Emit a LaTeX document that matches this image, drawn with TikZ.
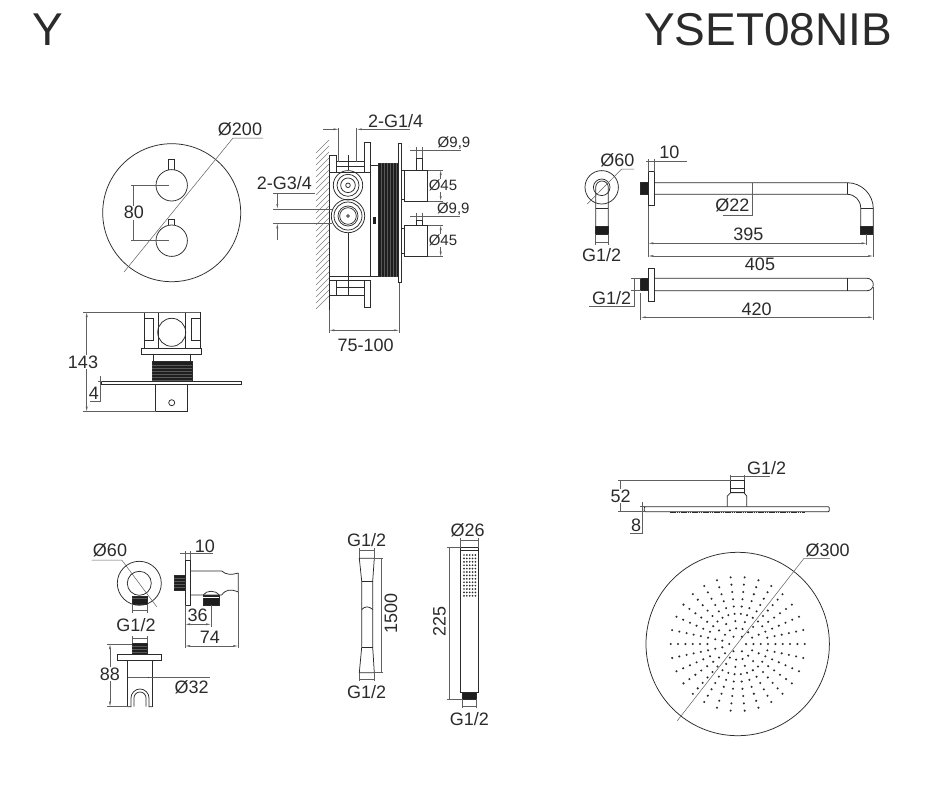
\documentclass[tikz,border=0pt]{standalone}
\usepackage{fontspec}
\setmainfont{Liberation Sans}
\usetikzlibrary{arrows.meta}
\definecolor{inkcol}{HTML}{2B2B2B}
\definecolor{threadcol}{HTML}{1E1E1E}
\tikzset{>={Latex[length=5pt,width=2pt]}}
\tikzset{partline/.style={draw=inkcol,line width=0.75pt}}
\tikzset{dimline/.style={draw=inkcol!75,line width=0.5pt}}
\tikzset{threadbox/.style={draw=inkcol,fill=threadcol,line width=0.5pt}}
\tikzset{stripe/.style={draw=gray!70!black,line width=0.3pt}}
\tikzset{hatchline/.style={draw=inkcol!60,line width=0.45pt}}
\tikzset{dimlabel/.style={text=inkcol,font=\fontsize{18}{18}\selectfont,inner sep=0.5pt}}
\tikzset{smalllabel/.style={text=inkcol,font=\fontsize{15}{15}\selectfont,inner sep=0.5pt}}
\tikzset{titlelabel/.style={text=inkcol,font=\fontsize{46}{46}\selectfont,inner sep=0pt}}
\begin{document}
\begin{tikzpicture}[x=1pt,y=-1pt]
    \useasboundingbox[fill=white] (0,0) rectangle (943,785);

    % Titles
    \node[titlelabel] (titleleft) at (48,30) {Y};
    \node[titlelabel] (titleright) at (768,30) {YSET08NIB};

    % Valve plate, front
    \draw[partline] (171.7,212.7) circle (69);
    \draw[partline] (171.7,185.3) circle (15.7);
    \draw[partline] (171.7,240.7) circle (15.7);
    \draw[partline] (168.3,169.6) -- (168.3,159) -- (174,159) -- (174,169.6);
    \draw[partline] (168,225) -- (168,219) -- (174,219) -- (174,225);
    \draw[dimline] (124,272) -- (233,138) -- (263,138);
    \draw[dimline] (131,185) -- (168.7,185);
    \draw[dimline] (131,240.7) -- (168.7,240.7);
    \draw[dimline] (133.3,185) -- (133.3,240.7);
    \node[dimlabel] (platedia) at (240,129) {Ø200};
    \node[dimlabel,fill=white] (knobgap) at (134,212.7) {80};

    % Valve, top view
    \draw[partline] (144,312) rectangle (158,348);
    \draw[partline] (185,312) rectangle (200,348);
    \draw[partline] (144,318) -- (153,318) -- (153,340) -- (144,340);
    \draw[partline] (200,318) -- (191,318) -- (191,340) -- (200,340);
    \draw[partline] (158,312) -- (185,312);
    \draw[partline] (171.7,332.3) circle (14);
    \draw[partline] (141.7,348) rectangle (201.7,354);
    \draw[partline] (153.3,354) rectangle (190.7,361.7);
    \draw[threadbox] (152,361.7) rectangle (192.3,381.7);
    \foreach \y in {365,368,...,380}
        \draw[stripe] (152,\y) -- (192.3,\y);
    \draw[partline] (101.7,381.7) rectangle (241.7,384.3);
    \draw[partline] (155.7,384.3) rectangle (187.3,411.7);
    \draw[partline] (171.7,402.7) circle (3);
    \draw[dimline] (83.3,312) -- (200,312);
    \draw[dimline] (83.3,411.7) -- (155.7,411.7);
    \draw[dimline,<->] (86.7,312) -- (86.7,411.7);
    \draw[dimline] (98,381.7) -- (102,381.7);
    \draw[dimline] (90,401.7) -- (100.7,401.7) -- (100.7,376);
    \node[dimlabel,fill=white] (totaldepth) at (83,362) {143};
    \node[dimlabel] (platethick) at (94,393) {4};

    % Valve, side view
    \foreach \y in {140,146,...,297}
        \draw[hatchline] (316,\y+13) -- (329,\y);
    \draw[partline] (329.3,155) -- (329.3,310);
    \draw[partline] (329,172.7) rectangle (370,276.7);
    \draw[partline] (329,155) rectangle (336,172.7);
    \draw[partline] (336,161.7) rectangle (364.3,172.7);
    \draw[partline] (336,166) -- (364.3,166);
    \draw[partline] (364.3,142.7) rectangle (370.3,172.7);
    \draw[partline] (329,280) rectangle (336,295);
    \draw[partline] (336,280) rectangle (364.3,295);
    \draw[partline] (336,287) -- (364.3,287);
    \draw[partline] (364.3,280) rectangle (370.3,307.7);
    \draw[partline] (329,276.7) -- (329,280);
    \draw[partline] (348,155) -- (348,170);
    \draw[partline] (348,232.7) -- (348,295);
    \foreach \r in {14.7,11,7.3,2.3}
        \draw[partline] (348,185.3) circle (\r);
    \foreach \r in {16.7,14,10,8.3,1.3}
        \draw[partline] (348,216) circle (\r);
    \draw[partline] (370,165) rectangle (378,276.7);
    \fill[threadcol] (372.8,217) rectangle (375.8,224);
    \draw[threadbox] (378,163.3) rectangle (398.3,276.7);
    \foreach \x in {381,384,...,396}
        \draw[stripe] (\x,163.3) -- (\x,276.7);
    \draw[partline] (398.3,143.3) rectangle (401,282.3);
    \draw[partline] (401,170) rectangle (404.5,199.3);
    \draw[partline] (404.5,170) rectangle (427.7,201);
    \draw[partline] (416.7,170) -- (416.7,158) -- (422.3,158) -- (422.3,170);
    \draw[partline] (401,228) rectangle (404.5,253);
    \draw[partline] (404.5,225) rectangle (427.7,256.7);
    \draw[partline] (416.7,225) -- (416.7,220) -- (422.3,220) -- (422.3,225);
    % side view dimensions
    \draw[dimline] (338.7,128) -- (338.7,161.7);
    \draw[dimline] (356.7,128) -- (356.7,161.7);
    \draw[dimline,->] (323,129.3) -- (338.7,129.3);
    \draw[dimline,->] (410,129.3) -- (356.7,129.3);
    \node[dimlabel] (portsupper) at (395.7,120.7) {2-G1/4};
    \draw[dimline] (273,193.3) -- (315,193.3);
    \draw[dimline] (273,209) -- (331.5,209);
    \draw[dimline] (273,223.3) -- (332,223.3);
    \draw[dimline,->] (277.3,193.3) -- (277.3,209);
    \draw[dimline,->] (277.3,240) -- (277.3,223.3);
    \node[dimlabel] (portslower) at (284.3,182.7) {2-G3/4};
    \draw[dimline] (329.3,310) -- (329.3,333);
    \draw[dimline] (399.3,283) -- (399.3,333);
    \draw[dimline,<->] (329.3,330.3) -- (399.3,330.3);
    \node[dimlabel] (boxdepth) at (365.7,345.7) {75-100};
    \draw[dimline] (410,150.7) -- (460.7,150.7);
    \draw[dimline] (416.7,147) -- (416.7,158);
    \draw[dimline] (422.3,147) -- (422.3,158);
    \node[smalllabel] (stubupper) at (454,143.5) {Ø9,9};
    \draw[dimline] (410,216) -- (460,216);
    \draw[dimline] (416.7,212.5) -- (416.7,220);
    \draw[dimline] (422.3,212.5) -- (422.3,220);
    \node[smalllabel] (stublower) at (453.3,209) {Ø9,9};
    \draw[dimline] (427.7,170) -- (443,170);
    \draw[dimline] (427.7,201) -- (443,201);
    \draw[dimline,<->] (440.7,170) -- (440.7,201);
    \node[smalllabel,fill=white] (knobupper) at (443,185.5) {Ø45};
    \draw[dimline] (427.7,225) -- (443,225);
    \draw[dimline] (427.7,256.7) -- (443,256.7);
    \draw[dimline,<->] (440.7,225) -- (440.7,256.7);
    \node[smalllabel,fill=white] (knoblower) at (443,240.5) {Ø45};

    % Shower arm, wall flange
    \draw[partline] (601.7,187.3) circle (16.7);
    \draw[partline] (601.7,187.3) circle (8.3);
    \draw[partline] (595.7,226.7) -- (595.7,187.3) arc (180:360:6.3) -- (608.3,226.7);
    \draw[partline] (595.7,208) -- (608.3,208);
    \draw[threadbox] (595.7,226.7) rectangle (608.3,234);
    \draw[dimline] (587.3,204) -- (621.7,169) -- (634,169);
    \node[dimlabel] (flangedia) at (617.3,160.7) {Ø60};
    \draw[dimline] (595.7,234) -- (595.7,245);
    \draw[dimline] (608.3,234) -- (608.3,245);
    \draw[dimline] (595.7,242.7) -- (608.3,242.7);
    \node[dimlabel] (armthread) at (601.7,255) {G1/2};

    % Shower arm, side view
    \draw[partline] (648.3,171.7) rectangle (654,205.7);
    \draw[threadbox] (640,182.7) rectangle (648.3,194.3);
    \draw[partline] (654,182.7) -- (847.3,182.7) arc (-90:0:26) -- (873.3,226.7);
    \draw[partline] (654,194.3) -- (847.3,194.3) arc (-90:0:13.4) -- (860.7,226.7);
    \draw[partline] (847.3,182.7) -- (847.3,194.3);
    \draw[partline] (860.7,208.3) -- (873.3,208.3);
    \draw[threadbox] (860.7,226.7) rectangle (873.3,234);
    \draw[dimline] (646,161) -- (686.7,161);
    \draw[dimline] (648.3,159) -- (648.3,171.7);
    \draw[dimline] (654,159) -- (654,171.7);
    \node[dimlabel] (flangewidth) at (669.3,152.7) {10};
    \draw[dimline] (752.3,182.7) -- (752.3,215) -- (723.3,215);
    \node[dimlabel] (pipedia) at (732.3,205) {Ø22};
    \draw[dimline] (648.3,205.7) -- (648.3,257);
    \draw[dimline] (866.7,234) -- (866.7,245);
    \draw[dimline] (873.3,208.3) -- (873.3,257);
    \draw[dimline,<->] (648.3,243.3) -- (866.7,243.3);
    \draw[dimline,<->] (648.3,256) -- (873.3,256);
    \node[dimlabel] (reachinner) at (748.3,234.3) {395};
    \node[dimlabel] (reachouter) at (760,264) {405};

    % Shower arm, plan view
    \draw[partline] (648.3,268.3) rectangle (654,301.7);
    \draw[threadbox] (640.7,278.3) rectangle (648.3,290.7);
    \draw[partline] (654,278.3) -- (867.1,278.3) arc (-90:90:6.2) -- (654,290.7);
    \draw[partline] (847.3,278.3) -- (847.3,290.7);
    \draw[dimline] (631,278.3) -- (640.7,278.3);
    \draw[dimline] (631,290.7) -- (640.7,290.7);
    \draw[dimline] (634,278.3) -- (634,306) -- (589.3,306);
    \node[dimlabel] (planthread) at (611.7,298.3) {G1/2};
    \draw[dimline] (640.7,293) -- (640.7,320);
    \draw[dimline] (873.3,287) -- (873.3,320);
    \draw[dimline,<->] (640.7,317.3) -- (873.3,317.3);
    \node[dimlabel] (planlength) at (756.7,309) {420};

    % Wall outlet, front
    \draw[partline] (139.3,583.3) circle (22);
    \draw[partline] (139.3,583.3) circle (12);
    \draw[threadbox] (132.3,596) rectangle (147.3,604.3);
    \draw[stripe] (132.3,598.5) -- (147.3,598.5);
    \draw[dimline] (91.7,560) -- (121.7,560) -- (156.7,606.7);
    \node[dimlabel] (outletdia) at (110,550) {Ø60};
    \draw[dimline] (132.3,604) -- (132.3,613);
    \draw[dimline] (147.3,604) -- (147.3,613);
    \draw[dimline] (132.3,610) -- (147.3,610);
    \node[dimlabel] (outletthread) at (136,625) {G1/2};

    % Wall outlet, side
    \draw[partline] (185,560) rectangle (190.7,605);
    \draw[threadbox] (174.3,575) rectangle (185,590);
    \foreach \y in {578,581,...,588}
        \draw[stripe] (174.3,\y) -- (185,\y);
    \draw[partline] (190.7,571) -- (221.7,571) .. controls (226,575) and (232,575) .. (238.3,573);
    \draw[partline] (238.3,573) -- (238.3,592) .. controls (231,589) and (226,589) .. (221.7,595) -- (190.7,595);
    \draw[partline] (203.3,595) .. controls (206,590) and (216,590) .. (219.3,595);
    \draw[threadbox] (203.3,595) rectangle (219.3,605);
    \draw[stripe,draw=white] (203.3,597) -- (219.3,597);
    \draw[dimline] (180,553.3) -- (213.3,553.3);
    \draw[dimline] (185,551) -- (185,560);
    \draw[dimline] (190.7,551) -- (190.7,560);
    \node[dimlabel] (bracketwidth) at (205,546) {10};
    \draw[dimline] (185,605) -- (185,648);
    \draw[dimline] (211,605) -- (211,627);
    \draw[dimline] (238.3,592) -- (238.3,648);
    \draw[dimline,<->] (185,624.3) -- (211,624.3);
    \draw[dimline,<->] (185,646) -- (238.3,646);
    \node[dimlabel] (outletoffset) at (197.7,615) {36};
    \node[dimlabel] (outletdepth) at (210,637.7) {74};

    % Wall outlet, below
    \draw[dimline] (132.3,636) -- (132.3,643.3);
    \draw[dimline] (147.3,636) -- (147.3,643.3);
    \draw[dimline] (132.3,638.3) -- (147.3,638.3);
    \draw[threadbox] (132.3,643.3) rectangle (147.3,654);
    \foreach \y in {646,649,652}
        \draw[stripe] (132.3,\y) -- (147.3,\y);
    \draw[partline] (117.3,654) rectangle (161.7,660.7);
    \draw[partline] (127.7,706.7) -- (127.7,660.7);
    \draw[partline] (152.3,660.7) -- (152.3,706.7);
    \draw[partline] (127.7,706.7) -- (131,706.7) -- (131,698) arc (180:360:9) -- (149,706.7) -- (152.3,706.7);
    \draw[partline] (134,706.7) -- (134,698) arc (180:360:6) -- (146,706.7);
    \draw[dimline] (106.7,644) -- (132.3,644);
    \draw[dimline] (106.7,706.7) -- (127.7,706.7);
    \draw[dimline,<->] (110,644) -- (110,706.7);
    \node[dimlabel,fill=white] (holderheight) at (110,674.3) {88};
    \draw[dimline] (127.7,677.3) -- (210,677.3);
    \fill[inkcol] (147.5,676.7) rectangle (148.5,678);
    \node[dimlabel] (holderdia) at (191.7,687.3) {Ø32};

    % Hose
    \draw[partline] (359.3,558.3) -- (361.7,581) -- (361.7,647.3) -- (359.3,672.7) -- (374.3,672.7) -- (372.7,647.3) -- (372.7,581) -- (374.3,558.3) -- cycle;
    \draw[partline] (361.7,581) -- (372.7,581);
    \draw[partline] (361.7,647.3) -- (372.7,647.3);
    \draw[partline] (361.7,609.5) .. controls (365,606) and (369,606) .. (372.7,609.5);
    \draw[dimline] (359.3,548) -- (359.3,558.3);
    \draw[dimline] (374.3,548) -- (374.3,558.3);
    \draw[dimline] (359.3,550) -- (374.3,550);
    \node[dimlabel] (hosetop) at (366.7,540) {G1/2};
    \draw[dimline] (374.3,558.3) -- (383,558.3);
    \draw[dimline] (374.3,672.7) -- (383,672.7);
    \draw[dimline] (381.7,558.3) -- (381.7,672.7);
    \node[dimlabel,rotate=90] (hoselength) at (391,613.3) {1500};
    \draw[dimline] (359.3,672.7) -- (359.3,681);
    \draw[dimline] (374.3,672.7) -- (374.3,681);
    \draw[dimline] (359.3,679.3) -- (374.3,679.3);
    \node[dimlabel] (hosebottom) at (366.7,691.7) {G1/2};

    % Hand shower
    \draw[partline] (460.7,547.7) rectangle (478,692.7);
    \draw[partline] (460.7,550.7) -- (478,550.7);
    \foreach \c in {0,...,4}
        \foreach \d in {0,...,12}
            \fill[inkcol] (464+2.85*\c,555+3.4*\d) circle (0.95);
    \draw[threadbox] (462.7,692.7) rectangle (476.7,699.3);
    \draw[dimline] (460.7,538) -- (460.7,547.7);
    \draw[dimline] (478,538) -- (478,547.7);
    \draw[dimline] (460.7,540) -- (478,540);
    \node[dimlabel] (handdia) at (467.7,530) {Ø26};
    \draw[dimline] (447,547.7) -- (460.7,547.7);
    \draw[dimline] (447,699.3) -- (462.7,699.3);
    \draw[dimline] (449,547.7) -- (449,699.3);
    \node[dimlabel,rotate=90] (handlength) at (439.3,621.7) {225};
    \draw[dimline] (462.7,699.3) -- (462.7,708);
    \draw[dimline] (476.7,699.3) -- (476.7,708);
    \draw[dimline] (462.7,706.7) -- (476.7,706.7);
    \node[dimlabel] (handthread) at (469.3,719.3) {G1/2};

    % Rain shower head, side
    \draw[partline,rounded corners=1pt] (644.3,506.7) rectangle (829.3,511.7);
    \draw[draw=inkcol,line width=1.5pt,dash pattern=on 1.5pt off 0.7pt] (670,512.5) -- (805,512.5);
    \draw[partline] (727.3,506.7) -- (727.3,496) -- (730.7,492.7) -- (744,492.7) -- (746.7,496) -- (746.7,506.7);
    \draw[partline] (730.7,480) rectangle (744,492.7);
    \draw[partline] (730.7,488.3) -- (744,488.3);
    \draw[dimline] (730.7,475) -- (730.7,480);
    \draw[dimline] (744,475) -- (744,480);
    \draw[dimline] (730.7,476.7) -- (770,476.7);
    \node[dimlabel] (headthread) at (766.7,468.3) {G1/2};
    \draw[dimline] (618,480) -- (730.7,480);
    \draw[dimline] (618,511.7) -- (645,511.7);
    \draw[dimline] (620.7,480) -- (620.7,511.7);
    \node[dimlabel,fill=white] (headheight) at (620.7,496) {52};
    \draw[dimline] (640,506.7) -- (645,506.7);
    \draw[dimline] (642.7,501.7) -- (642.7,533.3) -- (630,533.3);
    \node[dimlabel] (headthick) at (636,525) {8};

    % Rain shower head, nozzles
    \draw[partline] (737.7,644) circle (91.7);
    \foreach \r in {30.3,37.7,45,52.3,59.7,67}
        \foreach \a in {0,12,...,348}
            \fill[inkcol] (737.7,644) ++(\a:\r) circle (1.15);
    \foreach \r in {15.7,23}
        \foreach \a in {0,24,...,336}
            \fill[inkcol] (737.7,644) ++(\a:\r) circle (1.15);
    \foreach \a in {0,60,...,300}
        \fill[inkcol] (737.7,644) ++(\a:8.4) circle (1.15);
    \draw[dimline] (677.3,720.7) -- (804,558.3) -- (830,558.3);
    \node[dimlabel] (headdia) at (827.7,550) {Ø300};
\end{tikzpicture}
\end{document}
